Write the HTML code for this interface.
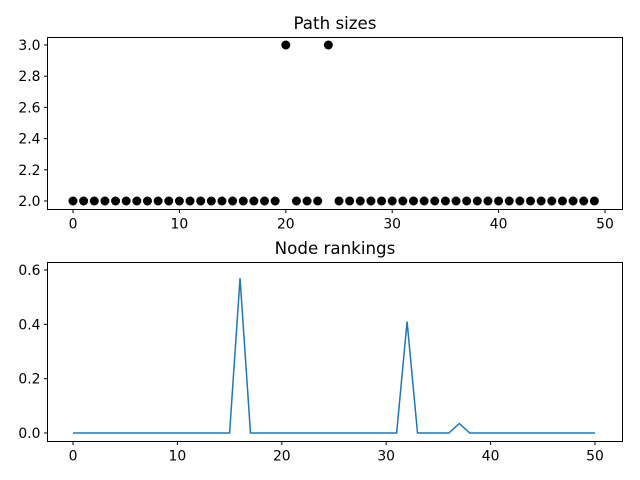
<!DOCTYPE html>
<html><head><meta charset="utf-8"><style>body{margin:0;background:#fff}svg{display:block;font-family:"DejaVu Sans","Liberation Sans",sans-serif}</style></head>
<body>
<svg id="c" width="640" height="480"></svg>
<script>
const pathSizes=[2,2,2,2,2,2,2,2,2,2,2,2,2,2,2,2,2,2,2,2,3,2,2,2,3,2,2,2,2,2,2,2,2,2,2,2,2,2,2,2,2,2,2,2,2,2,2,2,2,2];
const rankings=[0,0,0,0,0,0,0,0,0,0,0,0,0,0,0,0,0.57,0,0,0,0,0,0,0,0,0,0,0,0,0,0,0,0.41,0,0,0,0,0.035,0,0,0,0,0,0,0,0,0,0,0,0,0];
const xTicks=[0,10,20,30,40,50];
const yTicksTop=[2.0,2.2,2.4,2.6,2.8,3.0];
const yTicksBot=[0.0,0.2,0.4,0.6];
const svg=document.getElementById('c');
const NS='http://www.w3.org/2000/svg';
function mk(t,a,p){const e=document.createElementNS(NS,t);for(const k in a)e.setAttribute(k,a[k]);(p||svg).appendChild(e);return e;}
const L=47.5,R=622.5;
const xsT=v=>73+(605-73)*v/50;
const xsB=v=>73+(595-73)*v/50;
function axes(top,bot,xs,ys,yTicks,title,name){
  const g=mk('g',{});
  
  mk('rect',{x:L,y:top,width:R-L,height:bot-top,fill:'none',stroke:'#000','stroke-width':1},g);
  xTicks.forEach(t=>{const x=xs(t);mk('line',{x1:x,x2:x,y1:bot,y2:bot+3.5,stroke:'#000'},g);
    const tx=mk('text',{x:x,y:bot+19,'text-anchor':'middle','font-size':13.9},g);tx.textContent=t;
    });
  yTicks.forEach(t=>{const y=ys(t);mk('line',{x1:L,x2:L-3.5,y1:y,y2:y,stroke:'#000'},g);
    const tx=mk('text',{x:L-7,y:y+5,'text-anchor':'end','font-size':13.9},g);tx.textContent=t.toFixed(1);
    });
  const tt=mk('text',{x:(L+R)/2,y:top-8.5,'text-anchor':'middle','font-size':16.7},g);tt.textContent=title;
  
  return g;
}
const ysT=v=>201-(v-2)*156;
const g1=axes(37.5,209.5,xsT,ysT,yTicksTop,'Path sizes','path-sizes-plot');
pathSizes.forEach((v,i)=>{const c=mk('circle',{cx:xsT(i),cy:ysT(v),r:4.5,fill:'#000'},g1);
  });
const ysB=v=>433-v*(433-270)/0.6;
const g2=axes(262.5,441.5,xsB,ysB,yTicksBot,'Node rankings','node-rankings-plot');
const ln=mk('polyline',{points:rankings.map((v,i)=>xsB(i)+','+ysB(v)).join(' '),fill:'none',stroke:'#1f77b4','stroke-width':1.5},g2);

</script>
</body></html>
